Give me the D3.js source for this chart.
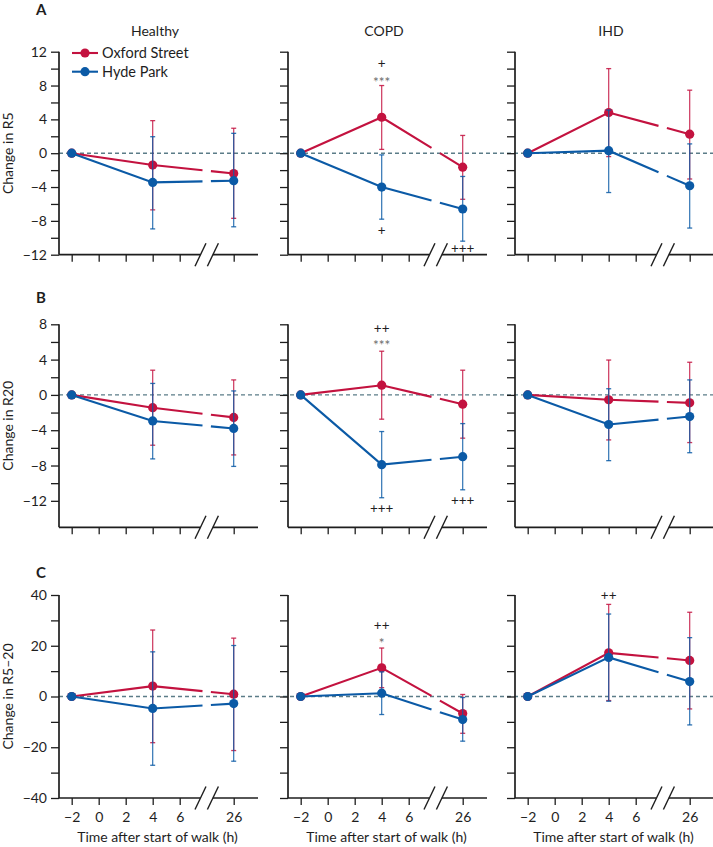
<!DOCTYPE html>
<html><head><meta charset="utf-8">
<script src="https://cdn.jsdelivr.net/npm/d3@7"></script>
<style>
body{margin:0;background:#fff;}
svg{display:block;font-family:Lato,"Open Sans",sans-serif;}
</style></head>
<body>
<svg id="c" width="713" height="847"></svg>
<script>
// ---------- data ----------
const groups = ["Healthy", "COPD", "IHD"];
const rowLetters = ["A", "B", "C"];
const rowLabels = ["Change in R5", "Change in R20", "Change in R5–20"];
const times = [-2, 4, 26];
const xTickValues = [-2, 0, 2, 4, 6, 26];
const seriesNames = ["Oxford Street", "Hyde Park"];

const yDomains = [[-12, 12], [-15, 8], [-40, 40]];
const yTickSteps = [2, 2, 10];
const yTickStarts = [-12, -12, -40];
const yTickEnds = [12, 8, 40];
const yLabelSteps = [4, 4, 20];

// values per [row][group] : [mean at -2, 4, 26]
const oxfordMean = [
  [[0, -1.4, -2.4], [0, 4.25, -1.65], [0, 4.8, 2.25]],
  [[0, -1.45, -2.55], [0, 1.1, -1.05], [0, -0.55, -0.9]],
  [[0, 4.1, 0.9], [0, 11.3, -6.7], [0, 17.2, 14.2]]
];
const oxfordLow = [
  [[0, -6.7, -7.7], [0, 0.45, -5.45], [0, -0.4, -3.05]],
  [[0, -5.7, -6.8], [0, -2.75, -4.9], [0, -5.1, -5.4]],
  [[0, -18.2, -21.3], [0, 3.5, -14.5], [0, -1.6, -4.9]]
];
const oxfordHigh = [
  [[0, 3.85, 2.95], [0, 8.0, 2.1], [0, 10.0, 7.45]],
  [[0, 2.8, 1.7], [0, 4.95, 2.8], [0, 3.95, 3.7]],
  [[0, 26.2, 23.0], [0, 19.1, 0.8], [0, 36.3, 33.2]]
];
const hydeMean = [
  [[0, -3.45, -3.25], [0, -4.0, -6.6], [0, 0.3, -3.85]],
  [[0, -2.95, -3.8], [0, -7.9, -7.0], [0, -3.35, -2.45]],
  [[0, -4.7, -2.8], [0, 1.3, -9.1], [0, 15.4, 5.9]]
];
const hydeLow = [
  [[0, -8.95, -8.7], [0, -7.8, -10.4], [0, -4.65, -8.85]],
  [[0, -7.25, -8.1], [0, -11.65, -10.75], [0, -7.45, -6.55]],
  [[0, -27.1, -25.5], [0, -7.1, -17.6], [0, -1.85, -11.2]]
];
const hydeHigh = [
  [[0, 1.95, 2.35], [0, -0.2, -2.75], [0, 5.1, 1.1]],
  [[0, 1.3, 0.45], [0, -4.15, -3.25], [0, 0.7, 1.7]],
  [[0, 17.6, 20.1], [0, 9.7, -0.4], [0, 32.5, 23.2]]
];

// significance annotations: row, group, time, value (y position in data units), text
const annRow   = [0, 0, 0, 0, 1, 1, 1, 1, 2, 2, 2];
const annGroup = [1, 1, 1, 1, 1, 1, 1, 1, 1, 1, 2];
const annTime  = [4, 4, 4, 26, 4, 4, 4, 26, 4, 4, 4];
const annValue = [10.6, 9.05, -9.1, -11.2, 7.6, 6.2, -12.8, -11.9, 28.2, 23.2, 40];
const annText  = ["+", "***", "+", "+++", "++", "***", "+++", "+++", "++", "*", "++"];

// ---------- layout ----------
const colors = ["#c3123f", "#0b5aa6"];
const colX = [59, 288, 515];
const panelW = 199;
const rowTop = [51.7, 324.3, 595];
const letterY = [15, 303, 578];
const panelH = 203;
const ink = "#1e1e1e";
const fs = 14;

const svg = d3.select("#c");

// broken x axis: -2..7 linear, 7..25 collapsed, 25..27.8 linear
const x = d3.scaleLinear()
  .domain([-2.94, 7, 25, 27.8])
  .range([0, 134.2, 161.2, panelW]);
const breakCenter = x(16);
const gapL = breakCenter - 4.2, gapR = breakCenter + 4.2;

const means = [oxfordMean, hydeMean];
const lows = [oxfordLow, hydeLow];
const highs = [oxfordHigh, hydeHigh];

rowTop.forEach((top, r) => {
  const y = d3.scaleLinear().domain(yDomains[r]).range([panelH, 0]);

  // zero reference line across the row
  svg.append("line")
    .attr("x1", colX[0]).attr("x2", 713)
    .attr("y1", top + y(0)).attr("y2", top + y(0))
    .attr("stroke", "#5b7c88").attr("stroke-width", 1.4)
    .attr("stroke-dasharray", "4,3");

  // panel letter
  svg.append("text").attr("x", 36).attr("y", letterY[r])
    .attr("font-size", 15).attr("font-weight", 700).attr("fill", ink).text(rowLetters[r]);

  // y label
  svg.append("text")
    .attr("transform", `translate(13,${top + panelH / 2}) rotate(-90)`)
    .attr("text-anchor", "middle").attr("font-size", fs).attr("fill", ink)
    .text(rowLabels[r]);

  groups.forEach((g, c) => {
    const gx = svg.append("g").attr("transform", `translate(${colX[c]},${top})`);

    if (r === 0) {
      svg.append("text").attr("x", colX[c] + 96).attr("y", 36)
        .attr("text-anchor", "middle").attr("font-size", fs).attr("fill", ink).text(g);
    }

    // y axis
    const ticks = d3.range(yTickStarts[r], yTickEnds[r] + 0.001, yTickSteps[r]);
    const yAxis = d3.axisLeft(y).tickValues(ticks).tickSize(8).tickPadding(4)
      .tickFormat(v => (c === 0 && Math.abs(v % yLabelSteps[r]) < 1e-9) ? d3.format("")(v) : "");
    const ya = gx.append("g").call(yAxis);
    ya.select(".domain").remove();
    ya.selectAll("line").attr("stroke", ink).attr("stroke-width", 1.3);
    ya.selectAll("text").attr("font-size", fs).attr("fill", ink).attr("font-family", "Lato");
    gx.append("line").attr("x1", 0).attr("x2", 0).attr("y1", 0).attr("y2", panelH)
      .attr("stroke", ink).attr("stroke-width", 1.7);

    // x axis
    const xAxis = d3.axisBottom(x).tickValues(xTickValues).tickSize(7).tickPadding(7)
      .tickFormat(v => r === 2 ? d3.format("")(v) : "");
    const xa = gx.append("g").attr("transform", `translate(0,${panelH})`).call(xAxis);
    xa.select(".domain").remove();
    xa.selectAll("line").attr("stroke", ink).attr("stroke-width", 1.3);
    xa.selectAll("text").attr("font-size", fs).attr("fill", ink).attr("font-family", "Lato");
    // axis line with break
    const bl = breakCenter - 6.2, br = breakCenter + 6.2;
    gx.append("line").attr("x1", 0).attr("x2", bl).attr("y1", panelH).attr("y2", panelH)
      .attr("stroke", ink).attr("stroke-width", 1.7);
    gx.append("line").attr("x1", br).attr("x2", panelW).attr("y1", panelH).attr("y2", panelH)
      .attr("stroke", ink).attr("stroke-width", 1.7);
    [bl, br].forEach(cx => {
      gx.append("line").attr("x1", cx - 5.5).attr("x2", cx + 5.5)
        .attr("y1", panelH + 11.5).attr("y2", panelH - 11.5)
        .attr("stroke", ink).attr("stroke-width", 1.4);
    });

    if (r === 2) {
      svg.append("text").attr("x", colX[c] + 98.5).attr("y", 842)
        .attr("text-anchor", "middle").attr("font-size", fs).attr("fill", ink)
        .text("Time after start of walk (h)");
    }

    // series
    [0, 1].forEach(s => {
      const m = means[s][r][c], lo = lows[s][r][c], hi = highs[s][r][c];
      const col = colors[s];
      const pts = times.map((t, i) => [x(t), y(m[i])]);

      // error bars
      times.forEach((t, i) => {
        if (i === 0) return;
        const px = x(t);
        gx.append("line").attr("x1", px).attr("x2", px).attr("y1", y(lo[i])).attr("y2", y(hi[i]))
          .attr("stroke", col).attr("stroke-width", 1.2).attr("stroke-opacity", 0.85);
        [lo[i], hi[i]].forEach(v => {
          gx.append("line").attr("x1", px - 2.5).attr("x2", px + 2.5).attr("y1", y(v)).attr("y2", y(v))
            .attr("stroke", col).attr("stroke-width", 1.3).attr("stroke-opacity", 0.85);
        });
      });

      // connecting line with gap at axis break
      const [p1, p2] = [pts[1], pts[2]];
      const interp = xx => [xx, p1[1] + (p2[1] - p1[1]) * (xx - p1[0]) / (p2[0] - p1[0])];
      const line = d3.line();
      gx.append("path").attr("d", line([pts[0], pts[1], interp(gapL)]))
        .attr("fill", "none").attr("stroke", col).attr("stroke-width", 2.1);
      gx.append("path").attr("d", line([interp(gapR), pts[2]]))
        .attr("fill", "none").attr("stroke", col).attr("stroke-width", 2.1);

      gx.selectAll(null).data(pts).enter().append("circle")
        .attr("cx", d => d[0]).attr("cy", d => d[1]).attr("r", 4.6).attr("fill", col);
    });

    // annotations
    annText.forEach((t, i) => {
      if (annRow[i] !== r || annGroup[i] !== c) return;
      const isStar = t.indexOf("*") >= 0;
      gx.append("text").attr("x", x(annTime[i])).attr("y", y(annValue[i]))
        .attr("dy", isStar ? "0.75em" : "0.35em")
        .attr("text-anchor", "middle").attr("font-size", 13.5)
        .attr("fill", isStar ? "#6a6a6a" : ink).text(t);
    });
  });
});

// legend
const legY = [53, 71.7];
seriesNames.forEach((n, s) => {
  svg.append("line").attr("x1", 72).attr("x2", 98).attr("y1", legY[s]).attr("y2", legY[s])
    .attr("stroke", colors[s]).attr("stroke-width", 2.1);
  svg.append("circle").attr("cx", 85).attr("cy", legY[s]).attr("r", 4.6).attr("fill", colors[s]);
  svg.append("text").attr("x", 102).attr("y", legY[s]).attr("dy", "0.36em")
    .attr("font-size", 14.5).attr("fill", ink).text(n);
});
</script>
</body></html>
